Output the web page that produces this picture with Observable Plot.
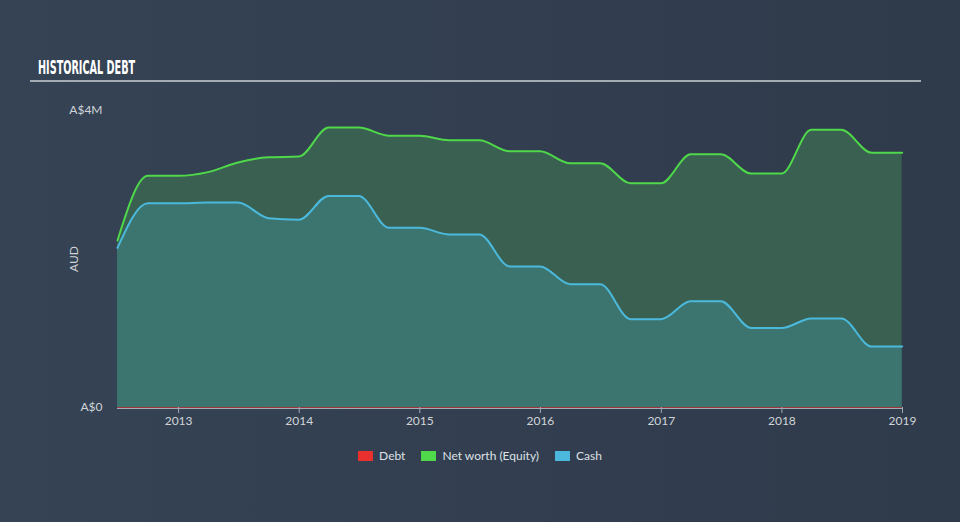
<!DOCTYPE html>
<html>
<head>
<meta charset="utf-8">
<script src="https://cdn.jsdelivr.net/npm/d3@7"></script>
<script src="https://cdn.jsdelivr.net/npm/@observablehq/plot@0.6"></script>
<style>
  html, body { margin: 0; padding: 0; background: #333f50; }
  #wrap { position: relative; width: 960px; height: 522px; background: linear-gradient(90deg, #354355 0%, #323e4f 60%, #2f3b4b 100%); overflow: hidden; font-family: Lato, "Open Sans", sans-serif; }
  #title { position: absolute; left: 38px; top: 56px; color: #ffffff; font-family: "DejaVu Sans Condensed", "DejaVu Sans", sans-serif; font-weight: bold; font-size: 19px; transform: scaleX(0.565); transform-origin: left top; white-space: nowrap; }
  #rule { position: absolute; left: 30px; top: 80px; width: 891px; height: 2px; background: #a3abb3; }
  #chart { position: absolute; left: 0; top: 0; }
  #legend { position: absolute; left: 0; top: 448px; width: 960px; display: flex; justify-content: center; gap: 16px; font-size: 12px; color: #dde1e5; }
  .item { display: flex; align-items: center; }
  .sw { width: 15px; height: 10px; margin-right: 6px; display: inline-block; }
</style>
</head>
<body>
<div id="wrap">
  <div id="title">HISTORICAL DEBT</div>
  <div id="rule"></div>
  <div id="chart"></div>
  <div id="legend"></div>
</div>
<script>
const dates = ["2012-06-30","2012-09-30","2012-12-31","2013-03-31","2013-06-30","2013-09-30","2013-12-31",
  "2014-03-31","2014-06-30","2014-09-30","2014-12-31","2015-03-31","2015-06-30","2015-09-30","2015-12-31",
  "2016-03-31","2016-06-30","2016-09-30","2016-12-31","2017-03-31","2017-06-30","2017-09-30","2017-12-31",
  "2018-03-31","2018-06-30","2018-09-30","2018-12-31"];
const equity = [2.25,3.12,3.12,3.17,3.30,3.37,3.38,
  3.77,3.77,3.66,3.66,3.60,3.60,3.45,3.45,
  3.29,3.29,3.02,3.02,3.41,3.41,3.15,3.15,
  3.74,3.74,3.43,3.43];
const cash = [2.15,2.75,2.75,2.76,2.76,2.55,2.53,
  2.85,2.85,2.42,2.42,2.33,2.33,1.90,1.90,
  1.66,1.66,1.19,1.19,1.43,1.43,1.07,1.07,
  1.20,1.20,0.82,0.82];
const debt = dates.map(() => 0);
const yTicks = [0, 4e6];
const yTickLabels = ["A$0", "A$4M"];
const seriesNames = ["Debt", "Net worth (Equity)", "Cash"];
const seriesColors = ["#e8302f", "#4fd84a", "#4bb9db"];

const data = dates.map((d, i) => ({date: new Date(d), equity: equity[i] * 1e6, cash: cash[i] * 1e6, debt: debt[i]}));

const chart = Plot.plot({
  width: 960,
  height: 440,
  marginTop: 110,
  marginBottom: 33,
  marginLeft: 117,
  marginRight: 58,
  style: {background: "transparent", color: "#c9ced3", fontFamily: "Lato, 'Open Sans', sans-serif", fontSize: "12px"},
  x: {type: "utc", domain: [new Date("2012-06-30"), new Date("2019-01-01")]},
  y: {domain: [0, 4e6]},
  marks: [
    Plot.areaY(data, {x: "date", y: "equity", fill: "#396050", curve: "monotone-x"}),
    Plot.areaY(data, {x: "date", y: "cash", fill: "#3c7570", curve: "monotone-x"}),
    Plot.ruleY([0], {stroke: "#a3abb3", strokeWidth: 1.2, dy: 1}),
    Plot.lineY(data, {x: "date", y: "debt", stroke: seriesColors[0], strokeWidth: 1, strokeOpacity: 0.6}),
    Plot.lineY(data, {x: "date", y: "equity", stroke: seriesColors[1], strokeWidth: 2, curve: "monotone-x"}),
    Plot.lineY(data, {x: "date", y: "cash", stroke: seriesColors[2], strokeWidth: 2, curve: "monotone-x"}),
    Plot.axisX({ticks: d3.utcYear.every(1), tickFormat: d3.utcFormat("%Y"), tickSize: 6, tickPadding: 3, stroke: "#a3abb3", fill: "#d0d4d8", label: null, fontSize: 12}),
    Plot.axisY({ticks: yTicks, tickFormat: (d) => yTickLabels[yTicks.indexOf(d)], tickSize: 0, tickPadding: 15, fill: "#d0d4d8", label: "AUD", labelAnchor: "center", labelArrow: "none", labelOffset: 48, fontSize: 12})
  ]
});
document.getElementById("chart").appendChild(chart);

const legend = document.getElementById("legend");
seriesNames.forEach((n, i) => {
  const it = document.createElement("div");
  it.className = "item";
  const sw = document.createElement("span");
  sw.className = "sw";
  sw.style.background = seriesColors[i];
  it.appendChild(sw);
  it.appendChild(document.createTextNode(n));
  legend.appendChild(it);
});
</script>
</body>
</html>
